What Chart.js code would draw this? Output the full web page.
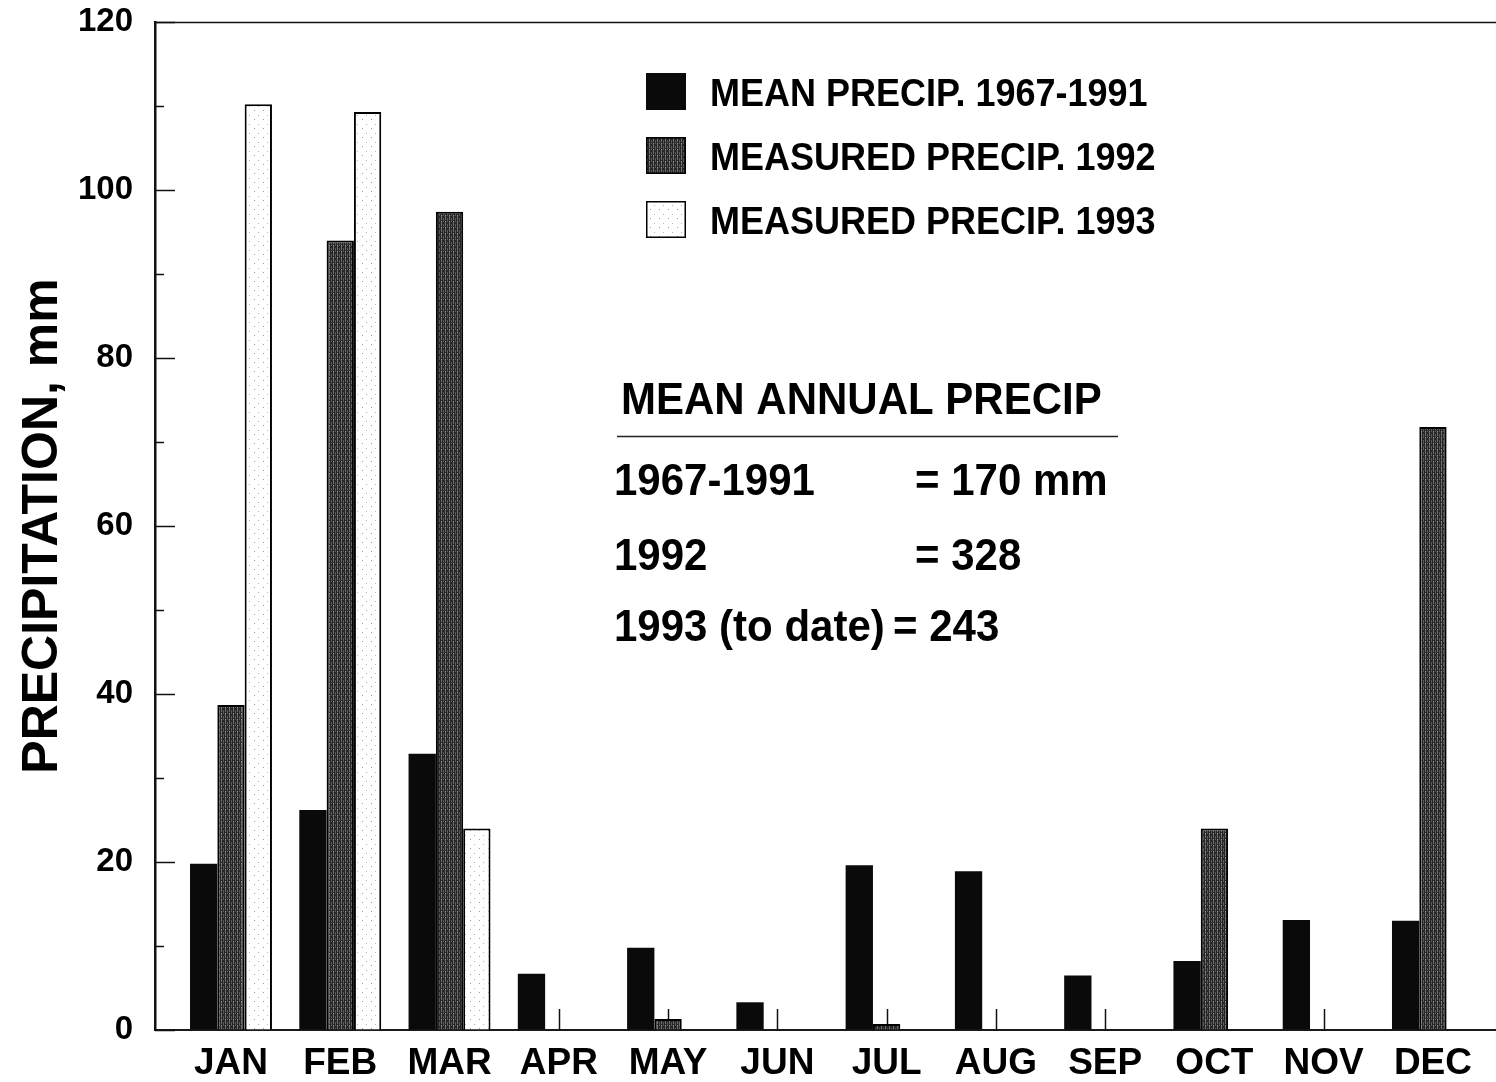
<!DOCTYPE html>
<html>
<head>
<meta charset="utf-8">
<script src="https://cdn.jsdelivr.net/npm/chart.js@4.4.1/dist/chart.umd.min.js"></script>
<style>
  html, body { margin: 0; padding: 0; background: #fff; }
  canvas { display: block; }
</style>
</head>
<body>
<canvas id="c" width="1496" height="1082"></canvas>
<script>
// Monthly precipitation, mm
const months = ['JAN', 'FEB', 'MAR', 'APR', 'MAY', 'JUN', 'JUL', 'AUG', 'SEP', 'OCT', 'NOV', 'DEC'];
const meanPrecip = [19.8, 26.2, 32.9, 6.7, 9.8, 3.3, 19.6, 18.9, 6.5, 8.2, 13.1, 13.0];
const precip1992 = [38.7, 94.0, 97.4, 0, 1.3, 0, 0.7, 0, 0, 24.0, 0, 71.8];
const precip1993 = [110.2, 109.3, 24.0, null, null, null, null, null, null, null, null, null];
const seriesLabels = ['MEAN PRECIP. 1967-1991', 'MEASURED PRECIP. 1992', 'MEASURED PRECIP. 1993'];
const yTickStep = 20;
const yMinorStep = 10;
const yMax = 120;
const summaryTitle = 'MEAN ANNUAL PRECIP';
const summaryLeft = ['1967-1991', '1992', '1993 (to date)'];
const summaryRight = ['= 170 mm', '= 328', '= 243'];

const FONT = '"Liberation Sans", Arial, Helvetica, sans-serif';
const canvas = document.getElementById('c');
const ctx = canvas.getContext('2d');

// Fill textures for the measured series
function tilePattern(w, h, paint) {
  const t = document.createElement('canvas');
  t.width = w; t.height = h;
  paint(t.getContext('2d'));
  return ctx.createPattern(t, 'repeat');
}
const darkStipple = tilePattern(4, 6, g => {
  g.fillStyle = '#262626'; g.fillRect(0, 0, 4, 6);
  g.fillStyle = '#6e6e6e'; g.fillRect(1, 0, 1, 4);
  g.fillStyle = '#585858'; g.fillRect(3, 2, 1, 4);
  g.fillStyle = '#9a9a9a'; g.fillRect(1, 5, 1, 1);
});
const lightDots = tilePattern(9, 9, g => {
  g.fillStyle = '#ffffff'; g.fillRect(0, 0, 9, 9);
  g.fillStyle = '#9a9a9a'; g.fillRect(2, 2, 1, 1);
  g.fillStyle = '#b5b5b5'; g.fillRect(6, 7, 1, 1);
});

const toPoints = arr => arr.map((v, i) => ({ x: i, y: v }));

// Inward ticks on both axes plus the top frame line
const axisMarks = {
  id: 'axisMarks',
  beforeDatasetsDraw(chart) {
    const { ctx, chartArea: a, scales: { x, y } } = chart;
    ctx.save();
    ctx.strokeStyle = '#111';
    ctx.lineWidth = 1.5;
    months.forEach((_, i) => {
      const px = Math.round(x.getPixelForValue(i)) + 0.5;
      ctx.beginPath();
      ctx.moveTo(px, a.bottom);
      ctx.lineTo(px, a.bottom - 21);
      ctx.stroke();
    });
    for (let v = 0; v <= yMax; v += yMinorStep) {
      const py = Math.round(y.getPixelForValue(v)) + 0.5;
      const len = v % yTickStep === 0 ? 20 : 9;
      ctx.beginPath();
      ctx.moveTo(a.left, py);
      ctx.lineTo(a.left + len, py);
      ctx.stroke();
    }
    ctx.beginPath();
    ctx.moveTo(a.left, a.top + 0.5);
    ctx.lineTo(a.right, a.top + 0.5);
    ctx.stroke();
    ctx.restore();
  }
};

// Text drawn slightly taller than wide, like the lettering of the plot
function tallText(ctx, text, x, baseline, stretch) {
  ctx.save();
  ctx.translate(x, baseline);
  ctx.scale(1, stretch);
  ctx.fillText(text, 0, 0);
  ctx.restore();
}

// Legend block and annual totals panel
const panels = {
  id: 'panels',
  afterDraw(chart) {
    const { ctx } = chart;
    ctx.save();
    ctx.fillStyle = '#000';
    ctx.textBaseline = 'alphabetic';
    ctx.textAlign = 'left';

    chart.data.datasets.forEach((ds, i) => {
      const top = 73 + i * 64;
      ctx.fillStyle = ds.backgroundColor;
      ctx.fillRect(646, top, 40, 37);
      if (ds.borderWidth) {
        ctx.strokeStyle = '#000';
        ctx.lineWidth = 1.5;
        ctx.strokeRect(646.75, top + 0.75, 38.5, 35.5);
      }
      ctx.fillStyle = '#000';
      ctx.font = 'bold 36px ' + FONT;
      tallText(ctx, ds.label, 710, top + 33, 1.08);
    });

    ctx.font = 'bold 42px ' + FONT;
    tallText(ctx, summaryTitle, 621, 414, 1.04);
    ctx.strokeStyle = '#222';
    ctx.lineWidth = 1.5;
    ctx.beginPath();
    ctx.moveTo(617, 436.5);
    ctx.lineTo(1118, 436.5);
    ctx.stroke();

    ctx.font = 'bold 42px ' + FONT;
    const baselines = [495, 570, 641];
    const eqX = [915, 915, 893];
    summaryLeft.forEach((t, i) => {
      tallText(ctx, t, 614, baselines[i], 1.06);
      tallText(ctx, summaryRight[i], eqX[i], baselines[i], 1.06);
    });
    ctx.restore();
  }
};

new Chart(canvas, {
  type: 'bar',
  data: {
    datasets: [
      { label: seriesLabels[0], data: toPoints(meanPrecip), backgroundColor: '#0a0a0a', borderWidth: 0 },
      { label: seriesLabels[1], data: toPoints(precip1992), backgroundColor: darkStipple, borderColor: '#000', borderWidth: 2 },
      { label: seriesLabels[2], data: toPoints(precip1993), backgroundColor: lightDots, borderColor: '#000', borderWidth: 2 }
    ]
  },
  options: {
    responsive: false,
    animation: false,
    devicePixelRatio: 1,
    categoryPercentage: 0.75,
    barPercentage: 1.0,
    layout: { padding: { top: 22, right: 0, bottom: 0, left: 0 } },
    plugins: { legend: { display: false }, tooltip: { enabled: false } },
    scales: {
      x: {
        type: 'linear',
        min: -0.6955,
        max: 11.577,
        offset: false,
        grid: { display: false, drawTicks: false },
        border: { display: true, width: 2, color: '#1a1a1a' },
        afterBuildTicks: s => { s.ticks = months.map((_, i) => ({ value: i })); },
        afterFit: s => { s.height = 52; },
        ticks: {
          autoSkip: false,
          maxRotation: 0,
          padding: 12,
          color: '#000',
          font: { family: FONT, size: 37, weight: 'bold' },
          callback: v => months[v] ?? ''
        }
      },
      y: {
        min: 0,
        max: yMax,
        // outer tick marks are invisible; they only set the label gap
        grid: { display: true, drawOnChartArea: false, drawTicks: true, tickLength: 22, color: 'rgba(0,0,0,0)' },
        border: { display: true, width: 2.5, color: '#111' },
        afterFit: s => { s.width = 155; },
        ticks: {
          stepSize: yTickStep,
          padding: 0,
          color: '#000',
          font: { family: FONT, size: 33, weight: 'bold' }
        },
        title: {
          display: true,
          text: 'PRECIPITATION, mm',
          color: '#000',
          font: { family: FONT, size: 50, weight: 'bold' },
          padding: { top: 13, bottom: 0 }
        }
      }
    }
  },
  plugins: [axisMarks, panels]
});
</script>
</body>
</html>
